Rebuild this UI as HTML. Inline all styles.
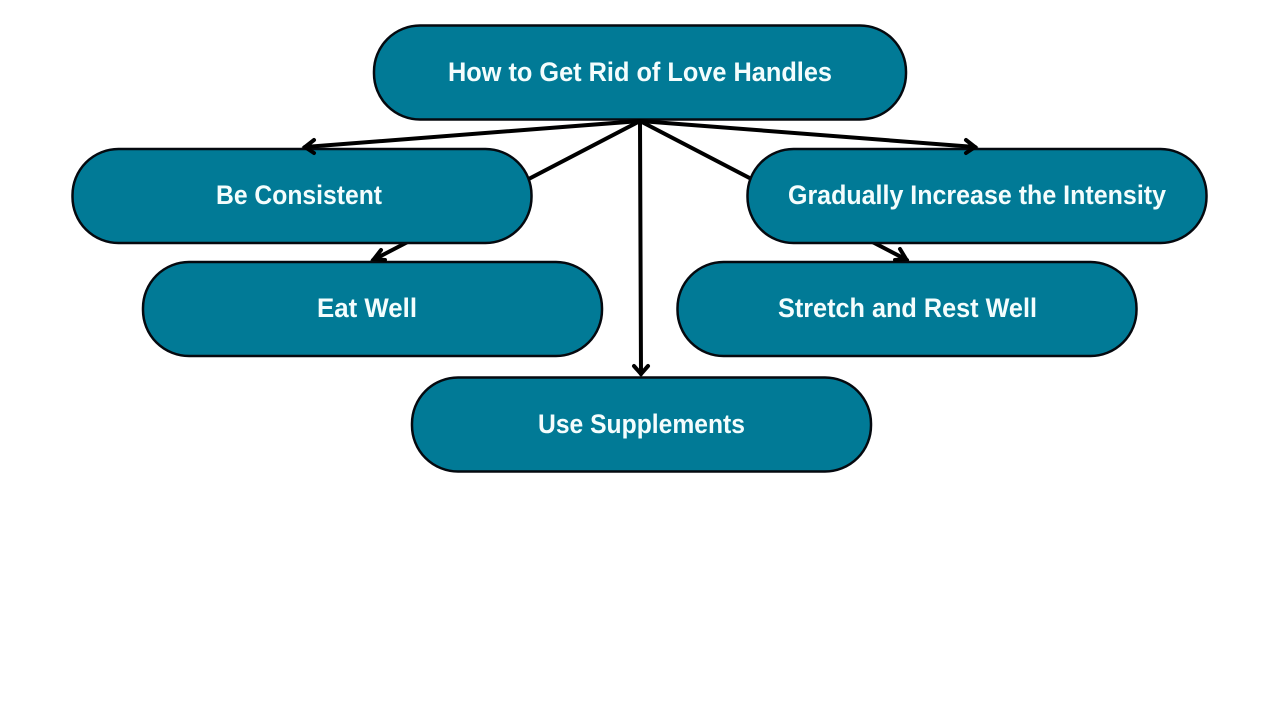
<!DOCTYPE html>
<html>
<head>
<meta charset="utf-8">
<style>
html,body{margin:0;padding:0;background:#fff;width:1280px;height:720px;overflow:hidden}
svg{display:block}
text{font-family:"Liberation Sans",sans-serif;font-weight:700;font-size:26.500px;fill:#f4fdfd}
.b{fill:#017a96;stroke:#05090f;stroke-width:2.500}
.l{stroke:#000;stroke-width:4;fill:none;stroke-linecap:round;stroke-linejoin:miter}
</style>
</head>
<body>
<svg width="1280" height="720" viewBox="0 0 1280 720" xmlns="http://www.w3.org/2000/svg">
<g class="l">
<path d="M640 121L373 260"/>
<path d="M640 121L907 260"/>
<path d="M640 121L641 374"/>
</g>
<rect class="b" x="374" y="25.500" width="532" height="94" rx="46" ry="46"/>
<rect class="b" x="72.500" y="149" width="459" height="94" rx="46" ry="46"/>
<rect class="b" x="747.500" y="149" width="459" height="94" rx="46" ry="46"/>
<rect class="b" x="143" y="262" width="459" height="94" rx="46" ry="46"/>
<rect class="b" x="677.500" y="262" width="459" height="94" rx="46" ry="46"/>
<rect class="b" x="412" y="377.500" width="459" height="94" rx="46" ry="46"/>
<g class="l">
<path d="M640 121L305 147"/>
<path d="M314 140L305 147L314 153"/>
<path d="M640 121L975 147"/>
<path d="M966 140L975 147L966 153"/>
<path d="M381 250L374 259L385 260"/>
<path d="M900 249L906 259L895 260"/>
<path d="M634 366L641 374L648 366"/>
</g>
<text x="448" y="81" textLength="384" lengthAdjust="spacingAndGlyphs">How to Get Rid of Love Handles</text>
<text x="216" y="204" textLength="166" lengthAdjust="spacingAndGlyphs">Be Consistent</text>
<text x="788" y="204" textLength="378" lengthAdjust="spacingAndGlyphs">Gradually Increase the Intensity</text>
<text x="317" y="317" textLength="100" lengthAdjust="spacingAndGlyphs">Eat Well</text>
<text x="778" y="317" textLength="259" lengthAdjust="spacingAndGlyphs">Stretch and Rest Well</text>
<text x="538" y="433" textLength="207" lengthAdjust="spacingAndGlyphs">Use Supplements</text>
</svg>
</body>
</html>
